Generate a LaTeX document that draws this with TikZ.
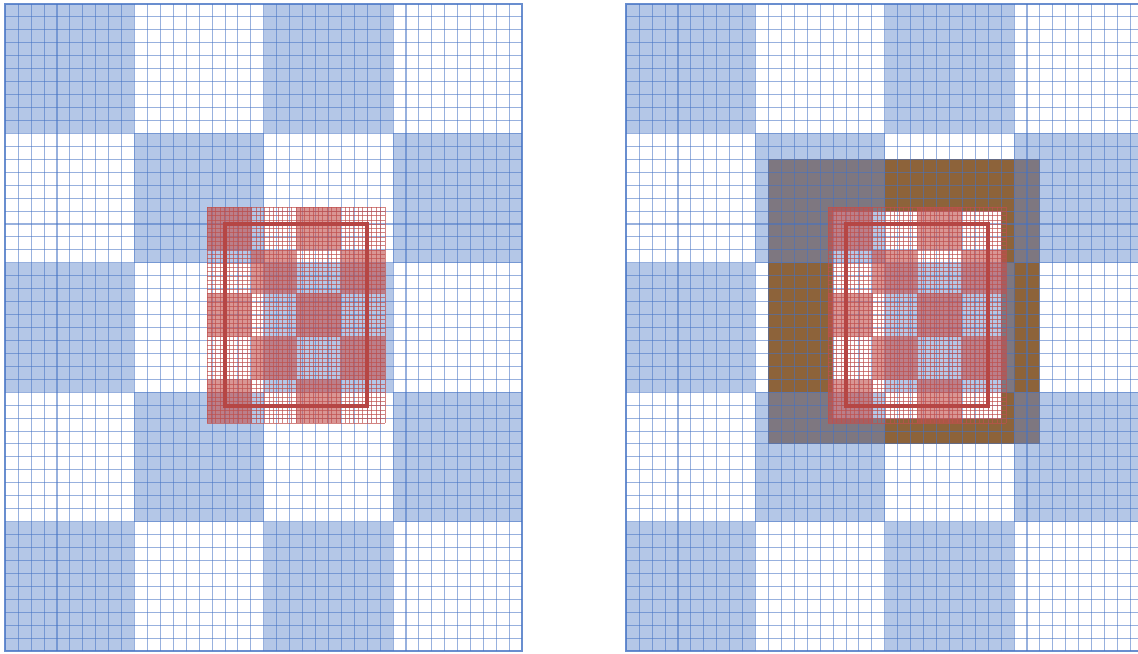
\documentclass[tikz,border=0pt]{standalone}
\definecolor{bfill}{RGB}{180,199,231}
\definecolor{bline}{RGB}{68,114,196}
\definecolor{rline}{RGB}{192,80,77}
\definecolor{rdark}{RGB}{182,70,68}
\definecolor{gfill}{RGB}{126,119,128}
\definecolor{brn}{RGB}{141,99,58}
\tikzset{
  bl/.style={draw=bline, draw opacity=0.55, line width=0.6pt},
  bb/.style={draw=bline, draw opacity=0.8, line width=1.4pt},
  rl/.style={draw=rline, draw opacity=0.7, line width=0.5pt},
  rfill/.style={fill=rline, fill opacity=0.6},
  nestrect/.style={draw=rdark, line width=1.8pt}
}
\newcommand{\pfills}[3]{%
  \foreach \i in {0,...,3}{\foreach \j in {0,...,4}{%
    \pgfmathtruncatemacro{\pp}{mod(\i+\j,2)}%
    \ifnum\pp=0 \fill[#3] ({#1+\i*129.25},{#2+\j*129.4}) rectangle ++(129.25,129.4);\fi
  }}}
\newcommand{\plines}[2]{%
  \foreach \i in {1,...,39} \draw[bl] ({#1+\i*12.925+0.3},#2) -- ++(0,647);
  \foreach \j in {1,...,49} \draw[bl] (#1,{#2+\j*12.94}) -- ++(517,0);
  \draw[bb] (#1,#2) rectangle ++(517,647);}
\newcommand{\haloframe}[2]{%
  \begin{scope}
    \clip ({#1+11*12.925},{#2+12*12.94}) rectangle ({#1+32*12.925},{#2+34*12.94});
    \fill[brn] (#1,#2) rectangle ++(517,647);
    \pfills{#1}{#2}{gfill}
  \end{scope}
  \begin{scope}
    \clip ({#1+16*12.925},{#2+16*12.94}) rectangle ({#1+29*12.925},{#2+32*12.94});
    \fill[white] (#1,#2) rectangle ++(517,647);
    \pfills{#1}{#2}{bfill}
  \end{scope}}
\newcommand{\nestgrid}[2]{%
  \begin{scope}[shift={({#1+202},{#2+203})}]
    \foreach \i in {0,...,3}{\foreach \j in {0,...,4}{%
      \pgfmathtruncatemacro{\pp}{mod(\i+\j,2)}%
      \ifnum\pp=0 \fill[rfill] ({\i*44.5},{\j*43.2}) rectangle ++(44.5,43.2);\fi
    }}
    \foreach \i in {0,...,40} \draw[rl] ({\i*4.45},0) -- ({\i*4.45},216);
    \foreach \j in {0,...,50} \draw[rl] (0,{\j*4.32}) -- (178,{\j*4.32});
  \end{scope}
  \draw[nestrect] ({#1+220},{#2+220}) rectangle ({#1+362},{#2+402});}
\begin{document}
\begin{tikzpicture}[x=0.02cm,y=-0.02cm]
\useasboundingbox (0,0) rectangle (1138,653);
\clip (0,0) rectangle (1138,653);
\fill[white] (0,0) rectangle (1138,653);
% left picture
\pfills{5}{4}{bfill}
\plines{5}{4}
\nestgrid{5}{4}
% right picture
\pfills{626}{4}{bfill}
\haloframe{626}{4}
\plines{626}{4}
\nestgrid{626}{4}
\end{tikzpicture}
\end{document}
